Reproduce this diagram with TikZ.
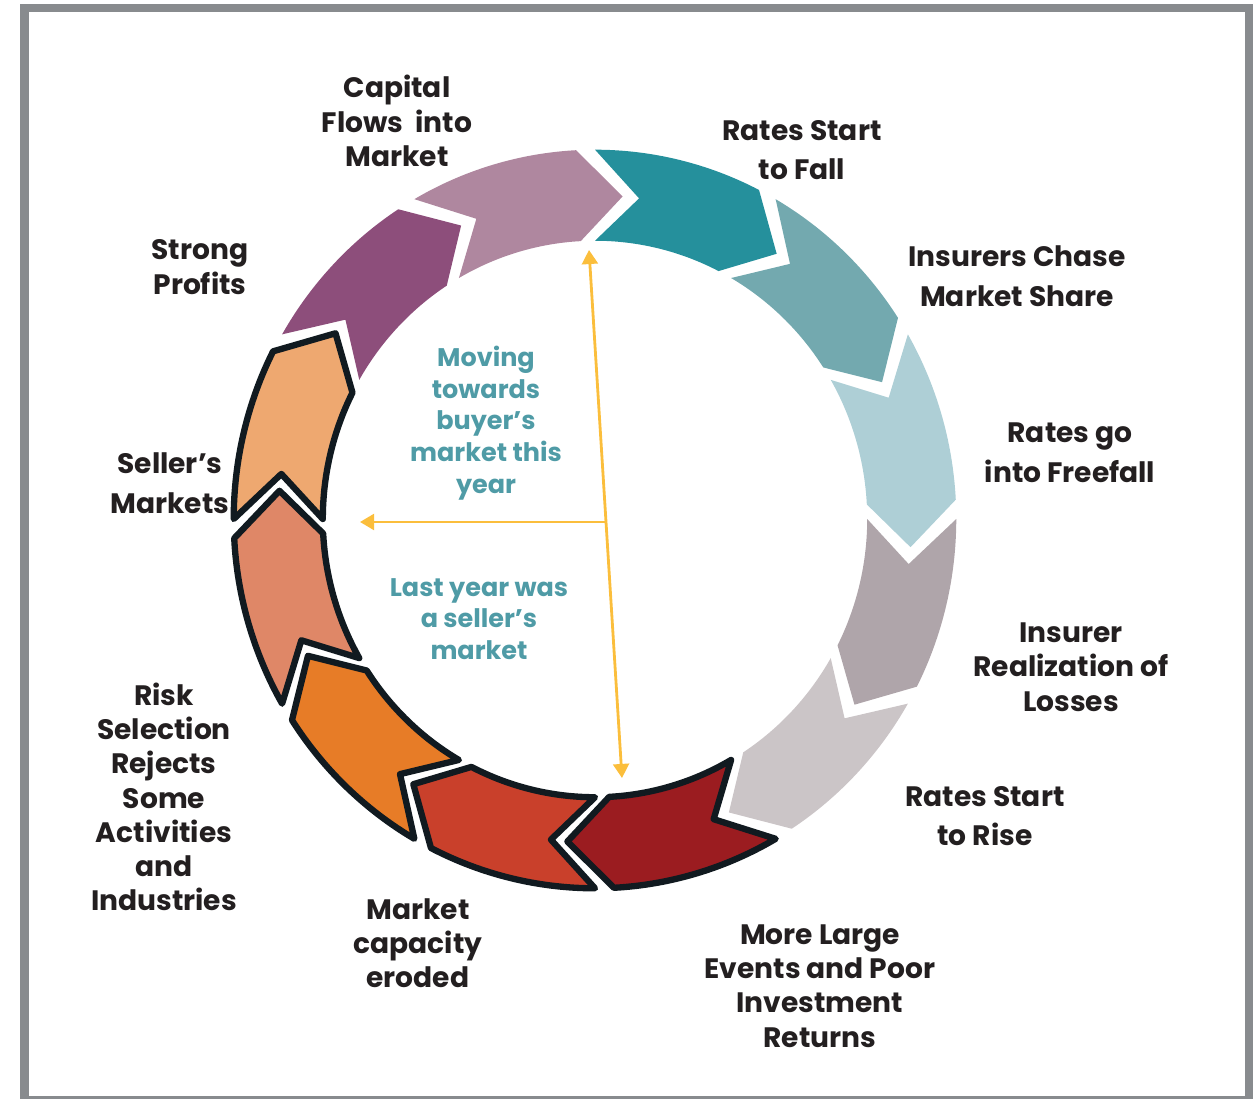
\documentclass[tikz,border=0pt]{standalone}
\usepackage{fontspec}
\setmainfont{Poppins}
\usepackage{tikz}
\usetikzlibrary{arrows.meta}
\definecolor{framegray}{HTML}{888B8E}
\definecolor{labeltext}{HTML}{231F20}
\definecolor{midteal}{HTML}{4F9BA6}
\definecolor{arrowyellow}{HTML}{FBBE3C}
\definecolor{outline}{HTML}{111A20}
\definecolor{segteal}{HTML}{25909C}
\definecolor{segtealb}{HTML}{73A9AF}
\definecolor{segblue}{HTML}{AECFD6}
\definecolor{seggray}{HTML}{AFA5AA}
\definecolor{seggrayb}{HTML}{CBC5C7}
\definecolor{segdred}{HTML}{9B1C20}
\definecolor{segred}{HTML}{C9402B}
\definecolor{segorange}{HTML}{E77C27}
\definecolor{segsalmon}{HTML}{DF8767}
\definecolor{seglorange}{HTML}{EEA870}
\definecolor{segpurple}{HTML}{8D4E7B}
\definecolor{segmauve}{HTML}{AF879F}
\tikzstyle{lbl}=[text=labeltext,font=\bfseries\fontsize{16}{19.5}\selectfont,align=center,inner sep=0pt]
\tikzstyle{lblwide}=[lbl,font=\bfseries\fontsize{16}{22.5}\selectfont]
\tikzstyle{midtext}=[text=midteal,font=\bfseries\fontsize{14.5}{18}\selectfont,align=center,inner sep=0pt]
\tikzstyle{yarrow}=[draw=arrowyellow,line width=1.6pt]
\tikzstyle{outlined}=[draw=outline,line width=3.6pt,line join=round]
% one chevron of the ring: tail angle, fill, extra style
\newcommand\ringseg[3]{%
  \path[fill=#2,#3] (#1:7.3cm) arc[start angle=#1, end angle=#1-27, radius=7.3cm]
    -- (#1-35:6.4cm) -- (#1-27:5.5cm)
    arc[start angle=#1-27, end angle=#1, radius=5.5cm] -- (#1-8:6.4cm) -- cycle;}

\begin{document}
\begin{tikzpicture}[x=0.02cm,y=0.02cm]
\useasboundingbox (0,0) rectangle (1259,1099);
\draw[framegray,line width=5pt] (24.5,1091) rectangle (1249,-1);

% the ring
\begin{scope}[shift={(595,580)},xscale=0.99,yscale=1.012]
  \foreach \ang/\col in {90/segteal,60/segtealb,30/segblue,0/seggray,-30/seggrayb,150/segpurple,120/segmauve}
    \ringseg{\ang}{\col}{};
  \foreach \ang/\col in {-60/segdred,-90/segred,-120/segorange,-150/segsalmon,-180/seglorange}
    \ringseg{\ang}{\col}{outlined};
\end{scope}

% labels round the ring
\node[lbl] (capital) at (397,978) {Capital\\Flows\ \ into\\Market};
\node[lblwide] (fall) at (802,949) {Rates Start\\to Fall};
\node[lblwide] (chase) at (1017,823) {Insurers Chase\\Market Share};
\node[lblwide] (freefall) at (1070,646) {Rates go\\into Freefall};
\node[lbl] (losses) at (1071,432) {Insurer\\Realization of\\Losses};
\node[lblwide] (rise) at (985,283) {Rates Start\\to Rise};
\node[lbl] (events) at (820,113) {More Large\\Events and Poor\\Investment\\Returns};
\node[lbl] (eroded) at (418,156) {Market\\capacity\\eroded};
\node[lbl] (risk) at (164,302) {Risk\\Selection\\Rejects\\Some\\Activities\\and\\Industries};
\node[lblwide] (sellers) at (170,616) {Seller’s\\Markets};
\node[lbl] (profits) at (200,832) {Strong\\Profits};

% centre
\node[midtext] (moving) at (486,676) {Moving\\towards\\buyer’s\\market this\\year};
\node[midtext] (lastyear) at (479,480) {Last year was\\a seller’s\\market};

\coordinate (arrtop) at (589,849);
\coordinate (arrbot) at (622,321);
\coordinate (arrmid) at (606,577);
\coordinate (arrleft) at (360,577);
\draw[yarrow,{Triangle[length=8pt,width=9pt]}-{Triangle[length=8pt,width=9pt]}] (arrbot) -- (arrtop);
\draw[yarrow,-{Triangle[length=8pt,width=9pt]}] (arrmid) -- (arrleft);
\end{tikzpicture}
\end{document}
